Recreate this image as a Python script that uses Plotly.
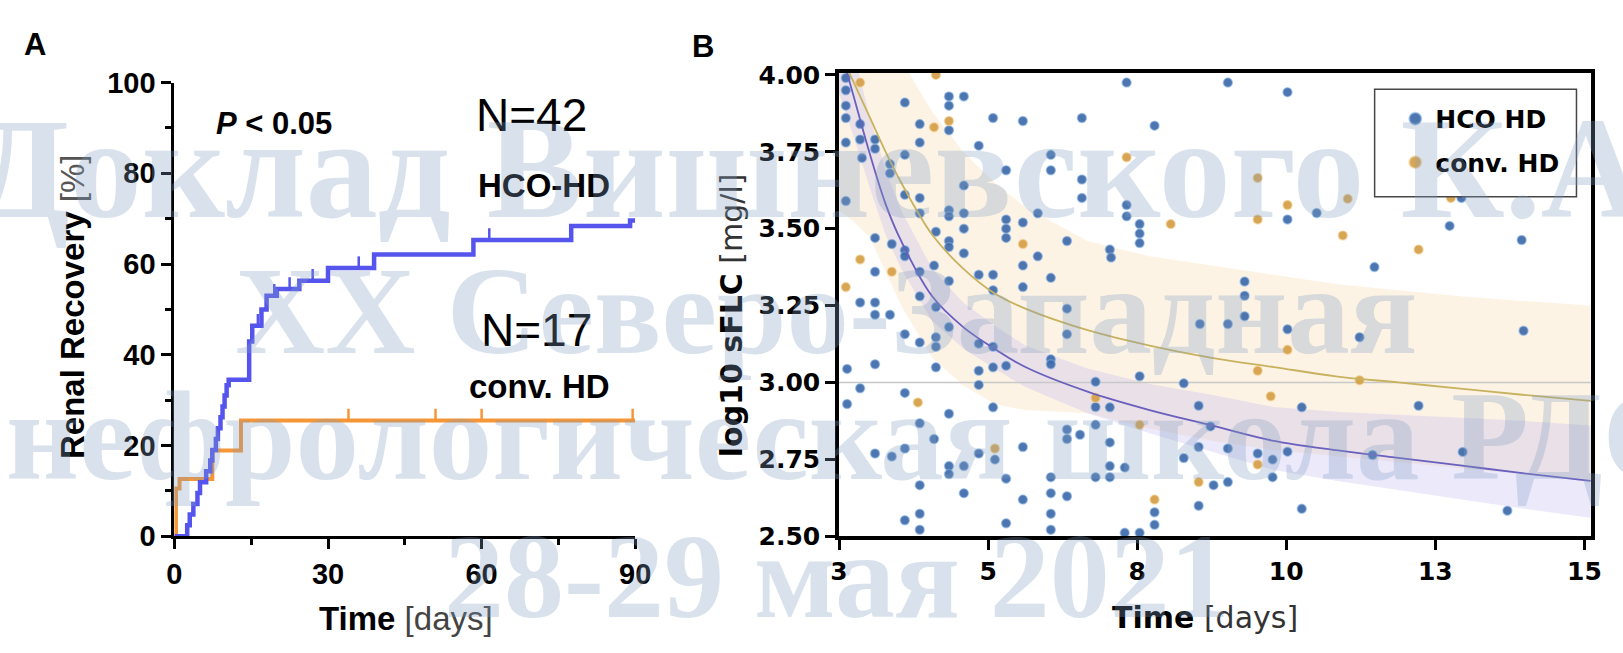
import numpy as np
import plotly.graph_objects as go

W, H = 1623, 653

# ---------------- Panel A : Kaplan-Meier renal recovery ----------------
hco_km_t = [0, 2.5, 3.0, 3.7, 4.5, 5.0, 6.2, 7.0, 7.4, 8.1, 8.5, 9.0, 9.4, 9.8, 10.2, 10.6,
            14.6, 15.2, 17.0, 18.0, 20.0, 24.4, 30.0, 39.0, 58.4, 77.5, 89.0, 90.0]
hco_km_v = [0, 2.4, 4.8, 7.1, 9.5, 11.9, 14.3, 16.7, 19.0, 21.4, 23.8, 26.2, 28.6, 31.0, 33.3, 34.5,
            42.9, 46.4, 50.0, 53.0, 54.5, 56.3, 59.1, 62.1, 65.3, 68.4, 69.6, 69.6]
hco_cens_t = [16.3, 19.5, 22.5, 27.0, 36.0, 61.5]

conv_km_t = [0, 0.3, 1.0, 7.4, 13.0, 90.0]
conv_km_v = [0, 10.5, 12.6, 18.9, 25.5, 25.5]
conv_cens_t = [34.0, 51.0, 60.0, 89.5]

a_xticks = [0, 30, 60, 90]
a_yticks = [0, 20, 40, 60, 80, 100]

# ---------------- Panel B : log10 sFLC over time ----------------
hco_x = [3.11, 3.11, 3.11, 3.11, 3.11, 3.11, 3.34, 3.34, 3.37,
         4.06, 4.77, 5.01, 4.77, 5.48, 5.96, 6.91, 4.30, 4.77, 3.58, 3.58, 4.30, 5.25, 4.06, 6.41,
         3.82, 3.82, 5.69, 6.41, 6.91, 5.01, 4.06, 4.30, 6.91, 4.77, 4.77, 5.01, 4.30, 6.20, 5.69,
         5.96, 5.01, 5.69, 4.56, 5.69, 3.58, 3.85, 4.06, 4.06, 4.77, 4.77, 5.01, 6.20, 6.67, 5.96,
         3.58, 4.30, 4.53, 5.25, 5.48, 5.96, 4.77, 6.41, 5.48, 4.30, 3.34, 3.58,
         7.63, 9.26, 10.22, 8.08, 7.63, 7.63, 7.84, 7.84, 7.84, 7.36, 7.38, 10.69, 10.22, 9.53, 9.53,
         12.83, 13.99, 11.62, 13.02,
         3.58, 3.82, 4.56, 4.06, 4.30, 4.56, 4.56, 4.77, 5.25, 5.48, 6.67, 6.67, 6.41, 6.41, 3.13,
         3.58, 4.56, 5.25, 5.25, 5.48, 5.69, 3.34, 4.06, 3.13, 4.77, 5.48, 4.30, 4.53, 6.67, 6.67,
         6.88, 5.96, 4.06, 3.58, 3.85, 5.25, 5.51, 4.77, 5.01, 4.77, 5.69, 6.41, 4.30, 5.01, 5.96,
         6.41, 6.67, 4.30, 4.06, 4.30, 5.69, 6.41, 6.41,
         8.81, 9.26, 9.53, 10.22, 7.84, 8.55, 7.13, 7.13, 7.36, 8.79, 10.45, 7.13, 8.98, 7.36, 8.79,
         9.26, 9.74, 9.98, 10.22, 8.55, 7.36, 7.60, 7.13, 7.36, 9.03, 9.26, 9.98, 8.79, 10.45, 8.08,
         8.08, 7.60, 7.84,
         11.38, 14.02, 12.33, 11.59, 13.04, 13.76]
hco_y = [3.99, 3.95, 3.90, 3.86, 3.78, 3.59, 3.84, 3.79, 3.73,
         3.91, 3.93, 3.93, 3.90, 3.86, 3.85, 3.86, 3.84, 3.82, 3.79, 3.76, 3.78, 3.77, 3.74, 3.74,
         3.71, 3.68, 3.69, 3.69, 3.66, 3.64, 3.61, 3.60, 3.60, 3.56, 3.54, 3.55, 3.55, 3.55, 3.53,
         3.52, 3.50, 3.50, 3.49, 3.47, 3.47, 3.45, 3.43, 3.41, 3.46, 3.44, 3.42, 3.41, 3.46, 3.38,
         3.36, 3.36, 3.38, 3.35, 3.35, 3.31, 3.33, 3.34, 3.30, 3.28, 3.26, 3.26,
         3.975, 3.975, 3.944, 3.835, 3.577, 3.54, 3.515, 3.484, 3.453, 3.432, 3.406, 3.551, 3.53, 3.328, 3.282,
         3.509, 3.463, 3.375, 3.60,
         3.22, 3.22, 3.245, 3.157, 3.13, 3.147, 3.116, 3.18, 3.126, 3.116, 3.24, 3.157, 3.075, 3.059, 3.044,
         3.059, 3.049, 3.038, 2.992, 3.049, 3.054, 2.981, 2.966, 2.93, 2.898, 2.919, 2.867, 2.816, 2.847, 2.816,
         2.83, 2.79, 2.785, 2.769, 2.759, 2.769, 2.749, 2.728, 2.728, 2.702, 2.687, 2.692, 2.666, 2.64, 2.619,
         2.64, 2.63, 2.573, 2.552, 2.521, 2.542, 2.573, 2.521,
         3.19, 3.19, 3.215, 3.173, 3.02, 2.997, 3.002, 2.92, 2.919, 2.924, 2.919, 2.862, 2.857, 2.805, 2.79,
         2.785, 2.769, 2.749, 2.775, 2.754, 2.728, 2.723, 2.692, 2.692, 2.666, 2.676, 2.692, 2.599, 2.589, 2.578,
         2.537, 2.511, 2.511,
         3.147, 3.168, 2.924, 2.764, 2.774, 2.583]

conv_x = [3.34, 3.34, 3.11, 4.53, 4.77, 5.96, 3.85, 4.56,
          7.63, 9.74, 8.34, 9.74, 10.22, 11.11, 11.19, 12.33, 12.85,
          4.27, 5.51, 10.22, 9.74, 9.95, 7.84, 8.79, 8.08, 9.74, 11.38, 7.13]
conv_y = [3.975, 3.40, 3.31, 3.83, 3.85, 3.45, 3.36, 4.0,
          3.732, 3.665, 3.515, 3.53, 3.577, 3.478, 3.597, 3.432, 3.60,
          2.935, 2.785, 3.106, 3.038, 2.955, 2.862, 2.676, 2.619, 2.733, 3.007, 2.95]

fit_x = [3.0, 3.25, 3.5, 3.75, 4.0, 4.5, 5.0, 5.5, 6.0, 7.0, 8.0, 9.0, 10.0, 11.0, 12.0, 13.0, 14.0, 15.1]
hco_fit = [4.10, 3.92, 3.74, 3.58, 3.46, 3.28, 3.18, 3.11, 3.05, 2.97, 2.91, 2.86, 2.81, 2.78, 2.755, 2.73, 2.705, 2.68]
hco_hi = [4.26, 4.06, 3.86, 3.69, 3.56, 3.37, 3.26, 3.185, 3.12, 3.045, 2.995, 2.96, 2.92, 2.905, 2.895, 2.885, 2.875, 2.86]
hco_lo = [3.94, 3.79, 3.63, 3.48, 3.37, 3.20, 3.11, 3.045, 2.985, 2.90, 2.835, 2.775, 2.715, 2.68, 2.65, 2.62, 2.59, 2.56]
conv_fit = [4.08, 3.97, 3.86, 3.75, 3.65, 3.48, 3.37, 3.29, 3.24, 3.17, 3.12, 3.08, 3.05, 3.02, 3.00, 2.98, 2.96, 2.94]
conv_hi = [4.6, 4.42, 4.25, 4.14, 4.05, 3.88, 3.75, 3.65, 3.57, 3.46, 3.41, 3.38, 3.35, 3.32, 3.30, 3.28, 3.265, 3.25]
conv_lo = [3.56, 3.52, 3.47, 3.36, 3.25, 3.08, 2.99, 2.93, 2.91, 2.90, 2.85, 2.81, 2.78, 2.76, 2.74, 2.72, 2.70, 2.68]
ref_level = 3.0

b_xtick_vals = [3, 5.4, 7.8, 10.2, 12.6, 15]
b_xtick_text = ["3", "5", "8", "10", "13", "15"]
b_ytick_vals = [2.5, 2.75, 3.0, 3.25, 3.5, 3.75, 4.0]
b_ytick_text = ["2.50", "2.75", "3.00", "3.25", "3.50", "3.75", "4.00"]

watermark_lines = ["Доклад Вишневского К.А.", "XX Северо-Западная",
                   "нефрологическая школа РДО", "28-29 мая 2021"]

# ---------------- helpers ----------------
def px(x):
    return x / W


def py(y):
    return 1 - y / H


def step_at(ts, vs, t):
    i = int(np.searchsorted(ts, t, side="right")) - 1
    return vs[max(i, 0)]


BLUE_KM = "rgb(85,85,238)"
ORANGE_KM = "rgb(245,150,55)"
SANS = "Arial, Liberation Sans, sans-serif"
WIDE = "DejaVu Sans, sans-serif"

fig = go.Figure()

# Panel A traces
fig.add_trace(go.Scatter(x=conv_km_t, y=conv_km_v, mode="lines", line=dict(color=ORANGE_KM, width=4, shape="hv"),
                         xaxis="x", yaxis="y", showlegend=False, cliponaxis=False))
fig.add_trace(go.Scatter(x=conv_cens_t, y=[step_at(conv_km_t, conv_km_v, t) + 1.2 for t in conv_cens_t],
                         mode="markers", marker=dict(symbol="line-ns", size=9, line=dict(color=ORANGE_KM, width=2.5)),
                         xaxis="x", yaxis="y", showlegend=False, cliponaxis=False))
fig.add_trace(go.Scatter(x=hco_km_t, y=hco_km_v, mode="lines", line=dict(color=BLUE_KM, width=4.5, shape="hv"),
                         xaxis="x", yaxis="y", showlegend=False, cliponaxis=False))
fig.add_trace(go.Scatter(x=hco_cens_t, y=[step_at(hco_km_t, hco_km_v, t) + 1.2 for t in hco_cens_t],
                         mode="markers", marker=dict(symbol="line-ns", size=9, line=dict(color=BLUE_KM, width=2.5)),
                         xaxis="x", yaxis="y", showlegend=False, cliponaxis=False))

# Panel B bands
fig.add_trace(go.Scatter(x=fit_x, y=conv_hi, mode="lines", line=dict(width=0), xaxis="x2", yaxis="y2",
                         showlegend=False, hoverinfo="skip"))
fig.add_trace(go.Scatter(x=fit_x, y=conv_lo, mode="lines", line=dict(width=0), fill="tonexty",
                         fillcolor="rgba(250,215,170,0.30)", xaxis="x2", yaxis="y2", showlegend=False, hoverinfo="skip"))
fig.add_trace(go.Scatter(x=fit_x, y=hco_hi, mode="lines", line=dict(width=0), xaxis="x2", yaxis="y2",
                         showlegend=False, hoverinfo="skip"))
fig.add_trace(go.Scatter(x=fit_x, y=hco_lo, mode="lines", line=dict(width=0), fill="tonexty",
                         fillcolor="rgba(185,175,240,0.28)", xaxis="x2", yaxis="y2", showlegend=False, hoverinfo="skip"))
fig.add_trace(go.Scatter(x=[3, 15.11], y=[ref_level, ref_level], mode="lines",
                         line=dict(color="rgb(200,200,200)", width=1.5), xaxis="x2", yaxis="y2", showlegend=False))

# Panel B points
fig.add_trace(go.Scatter(x=hco_x, y=hco_y, mode="markers", name="HCO HD", legendgroup="a",
                         marker=dict(size=9, color="rgba(62,105,168,0.92)",
                                     line=dict(width=1.5, color="rgba(130,175,225,0.55)")),
                         xaxis="x2", yaxis="y2"))
fig.add_trace(go.Scatter(x=conv_x, y=conv_y, mode="markers", name="conv. HD", legendgroup="b",
                         marker=dict(size=9, color="rgba(212,158,70,0.92)",
                                     line=dict(width=1.5, color="rgba(245,205,140,0.55)")),
                         xaxis="x2", yaxis="y2"))

# Panel B fitted curves
fig.add_trace(go.Scatter(x=fit_x, y=conv_fit, mode="lines", line=dict(color="rgb(200,178,95)", width=1.8, shape="spline"),
                         xaxis="x2", yaxis="y2", showlegend=False))
fig.add_trace(go.Scatter(x=fit_x, y=hco_fit, mode="lines", line=dict(color="rgb(105,95,190)", width=1.8, shape="spline"),
                         xaxis="x2", yaxis="y2", showlegend=False))

a_tickfont = dict(family=SANS, size=29, color="black", weight="bold")
b_tickfont = dict(family=WIDE, size=25, color="black", weight="bold")

fig.update_layout(
    width=W, height=H, margin=dict(l=0, r=0, t=0, b=0),
    paper_bgcolor="white", plot_bgcolor="white",
    xaxis=dict(domain=[px(168), px(636)], range=[0, 90], tickvals=a_xticks, showline=True, linewidth=3,
               linecolor="black", ticks="outside", ticklen=10, tickwidth=3, tickcolor="black",
               minor=dict(ticks="outside", ticklen=6, tickwidth=3, tickcolor="black", dtick=15),
               showgrid=False, zeroline=False, tickfont=a_tickfont, anchor="y"),
    yaxis=dict(domain=[py(547), py(70)], range=[0, 100], tickvals=a_yticks, showline=True, linewidth=3,
               linecolor="black", ticks="outside", ticklen=10, tickwidth=3, tickcolor="black",
               minor=dict(ticks="outside", ticklen=6, tickwidth=3, tickcolor="black", dtick=10),
               showgrid=False, zeroline=False, tickfont=a_tickfont, anchor="x"),
    xaxis2=dict(domain=[px(843), px(1607)], range=[3, 15.11], tickvals=b_xtick_vals, ticktext=b_xtick_text,
                showline=True, mirror=True, linewidth=3.5, linecolor="black", ticks="outside", ticklen=10,
                tickwidth=3, tickcolor="black", showgrid=False, zeroline=False, tickfont=b_tickfont, anchor="y2"),
    yaxis2=dict(domain=[py(547), py(60)], range=[2.5, 4.006], tickvals=b_ytick_vals, ticktext=b_ytick_text,
                showline=True, mirror=True, linewidth=3.5, linecolor="black", ticks="outside", ticklen=10,
                tickwidth=3, tickcolor="black", showgrid=False, zeroline=False, tickfont=b_tickfont, anchor="x2"),
    legend=dict(x=px(1408), y=py(84), xanchor="left", yanchor="top", bgcolor="rgba(0,0,0,0)",
                font=dict(family=WIDE, size=25, color="black", weight="bold"), tracegroupgap=8,
                itemsizing="constant"),
    showlegend=True,
)

# legend frame (white box)
fig.add_shape(type="rect", xref="paper", yref="paper", x0=px(1387), x1=px(1592), y0=py(190), y1=py(77),
              line=dict(color="rgb(70,70,70)", width=1.5), fillcolor="white", layer="above")

ann = []


def text(x, y, s, size, family=SANS, weight="normal", color="black", angle=0, xanchor="center"):
    ann.append(dict(x=px(x), y=py(y), xref="paper", yref="paper", text=s, showarrow=False,
                    xanchor=xanchor, yanchor="middle", textangle=angle,
                    font=dict(family=family, size=size, color=color, weight=weight)))


text(26, 30, "A", 31, weight="bold")
text(705, 32, "B", 31, weight="bold")
text(269, 113, "<i>P</i> &lt; 0.05", 31, weight="bold")
text(531, 104, "N=42", 46)
text(543, 178, "HCO-HD", 33, weight="bold")
text(536, 330, "N=17", 46)
text(539, 390, "conv. HD", 33, weight="bold")
text(64, 306, "<b>Renal Recovery</b> <span style='color:#555'>[%]</span>", 33, angle=-90)
text(403, 634, "<b>Time</b> <span style='color:#444'>[days]</span>", 33)
text(734, 315, "<b>log10 sFLC</b> <span style='color:#333'>[mg/l]</span>", 30, family=WIDE, angle=-90)
text(1215, 633, "<b>Time</b> <span style='color:#333'>[days]</span>", 30, family=WIDE)

# watermark overlay
wm_font = "Liberation Serif, Times New Roman, serif"
wm_color = "rgba(130,160,192,0.30)"
text(830, 160, watermark_lines[0], 144, family=wm_font, weight="bold", color=wm_color)
text(830, 310, watermark_lines[1], 125, family=wm_font, weight="bold", color=wm_color)
text(-5, 442, watermark_lines[2], 127, family=wm_font, weight="bold", color=wm_color, xanchor="left")
text(841, 589, watermark_lines[3], 120, family=wm_font, weight="bold", color=wm_color)

fig.update_layout(annotations=ann)

fig.write_html("out.html")
